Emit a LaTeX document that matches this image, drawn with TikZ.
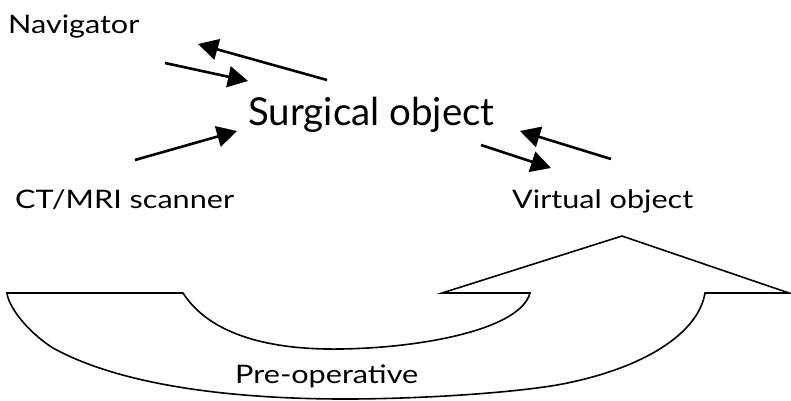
\documentclass[tikz,border=0pt]{standalone}
\usepackage{fontspec}
\setmainfont{Lato}
\newfontfamily\widefont{Lato}[FakeStretch=1.2]
\usetikzlibrary{arrows.meta}
\begin{document}
\begin{tikzpicture}[x=1pt,y=-1pt,
  lbl/.style={inner sep=0pt,anchor=base west,font=\widefont\fontsize{25.5}{28}\selectfont},
  big/.style={inner sep=0pt,anchor=base west,font=\fontsize{38.5}{42}\selectfont},
  flow/.style={line width=2.6pt,-{Triangle[length=20pt,width=21pt]}},
  bigarrow/.style={line width=1.6pt,line join=miter}]
\useasboundingbox (0,0) rectangle (791,400);
\node[lbl] (nav) at (8,33) {Navigator};
\node[big] (surg) at (248,125) {Surgical object};
\node[lbl] (ct) at (15,208) {CT/MRI scanner};
\node[lbl] (virt) at (512,208) {Virtual object};
\node[lbl] (pre) at (235,383) {Pre-operative};
% arrow endpoints
\coordinate (a1s) at (327,80);  \coordinate (a1e) at (198,44);
\coordinate (a2s) at (165,63);  \coordinate (a2e) at (248,81);
\coordinate (a3s) at (135,160); \coordinate (a3e) at (237,131);
\coordinate (a4s) at (481,145); \coordinate (a4e) at (551,168);
\coordinate (a5s) at (611,159); \coordinate (a5e) at (520,131);
\draw[flow] (a1s) -- (a1e);
\draw[flow] (a2s) -- (a2e);
\draw[flow] (a3s) -- (a3e);
\draw[flow] (a4s) -- (a4e);
\draw[flow] (a5s) -- (a5e);
% big curved arrow
\draw[bigarrow] (7,293) -- (183,293)
  .. controls (210,335) and (270,350) .. (340,349)
  .. controls (420,348) and (520,330) .. (530,293)
  -- (442,293) -- (622,236) -- (789,293) -- (705,293)
  .. controls (698,335) and (640,370) .. (557,385)
  .. controls (510,393) and (420,399) .. (345,399)
  .. controls (230,399) and (120,385) .. (53,348)
  .. controls (25,330) and (8,305) .. (7,293) -- cycle;
\end{tikzpicture}
\end{document}
